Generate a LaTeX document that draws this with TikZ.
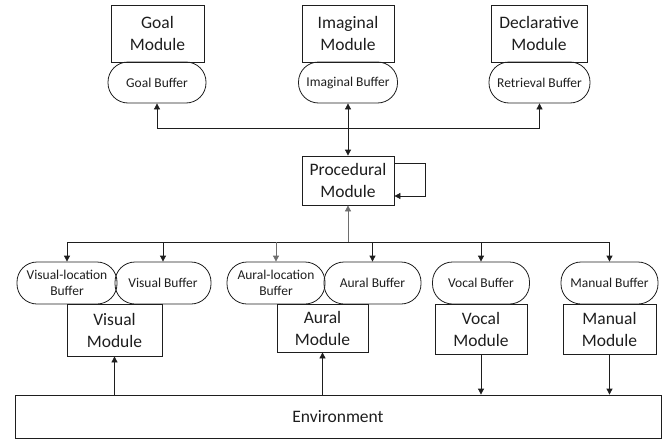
\documentclass[tikz,border=0pt]{standalone}
\usepackage{fontspec}
\setmainfont{Carlito}
\usetikzlibrary{arrows.meta}
\definecolor{linegray}{RGB}{110,110,110}
\definecolor{ink}{RGB}{30,30,30}
\begin{document}
\begin{tikzpicture}[x=1pt,y=-1pt,
  line width=0.8pt, draw=ink, text=ink,
  modbox/.style={draw, rectangle, inner sep=0pt, align=center, font=\fontsize{17.5}{22}\selectfont},
  bufbox/.style={draw, rectangle, rounded corners=20pt, inner sep=0pt, align=center, minimum height=41pt, font=\fontsize{13.5}{16.5}\selectfont},
  arr/.style={-{Triangle[length=6pt,width=6pt]}},
  darr/.style={{Triangle[length=6pt,width=6pt]}-{Triangle[length=6pt,width=6pt]}}]
\useasboundingbox (0,0) rectangle (664,439);

% top modules
\node[modbox, minimum width=93pt, minimum height=57pt] (goalmod) at (157.5,33.5) {Goal\\Module};
\node[modbox, minimum width=92pt, minimum height=57pt] (imgmod) at (348,33.5) {Imaginal\\Module};
\node[modbox, minimum width=96pt, minimum height=57pt] (decmod) at (539,33.5) {Declarative\\Module};

\node[bufbox, minimum width=98pt] (goalbuf) at (157,82.5) {Goal Buffer};
\node[bufbox, minimum width=99pt] (imgbuf) at (348,82.5) {Imaginal Buffer};
\node[bufbox, minimum width=101pt] (decbuf) at (539.5,82.5) {Retrieval Buffer};

% procedural
\node[modbox, minimum width=92pt, minimum height=49pt] (proc) at (348,180.5) {Procedural\\Module};

% bottom modules
\node[modbox, minimum width=95pt, minimum height=52pt] (vismod) at (114.5,330) {Visual\\Module};
\node[modbox, minimum width=91pt, minimum height=48pt] (aurmod) at (322.5,328) {Aural\\Module};
\node[modbox, minimum width=92pt, minimum height=50pt] (vocmod) at (481,329) {Vocal\\Module};
\node[modbox, minimum width=93pt, minimum height=50pt] (manmod) at (609.5,329) {Manual\\Module};

% bottom buffers
\node[bufbox, minimum width=100pt, minimum height=42pt] (vlocbuf) at (67,283) {Visual-location\\Buffer};
\node[bufbox, minimum width=96pt, minimum height=42pt] (visbuf) at (163,283) {Visual Buffer};
\node[bufbox, minimum width=98pt, minimum height=42pt] (alocbuf) at (276,283) {Aural-location\\Buffer};
\node[bufbox, minimum width=97pt, minimum height=42pt] (aurbuf) at (372.5,283) {Aural Buffer};
\node[bufbox, minimum width=97pt, minimum height=42pt] (vocbuf) at (481,283) {Vocal Buffer};
\node[bufbox, minimum width=97pt, minimum height=42pt] (manbuf) at (609.5,283) {Manual Buffer};

% environment
\node[modbox, minimum width=646pt, minimum height=43pt] (env) at (338,416.5) {Environment};

% top connectors
\draw[darr] (goalbuf.south) -- ++(0,24.5) -| (decbuf.south);
\draw[darr] (imgbuf.south) -- (proc.north);

% self loop
\draw[arr] ([yshift=17.5pt]proc.east) -- ++(31,0) |- ([yshift=-15.5pt]proc.east);

% bus
\coordinate (bus) at (0,242);
\draw (vlocbuf.north |- bus) -- (manbuf.north |- bus);
\draw[arr, draw=linegray] (proc.south |- bus) -- (proc.south);
\draw[arr] (vlocbuf.north |- bus) -- (vlocbuf.north);
\draw[arr] (visbuf.north |- bus) -- (visbuf.north);
\draw[arr, draw=linegray] (alocbuf.north |- bus) -- (alocbuf.north);
\draw[arr] (aurbuf.north |- bus) -- (aurbuf.north);
\draw[arr] (vocbuf.north |- bus) -- (vocbuf.north);
\draw[arr] (manbuf.north |- bus) -- (manbuf.north);

% environment connectors
\draw[arr] (vismod.south |- env.north) -- (vismod.south);
\draw[arr] (aurmod.south |- env.north) -- (aurmod.south);
\draw[arr] (vocmod.south) -- (vocmod.south |- env.north);
\draw[arr] (manmod.south) -- (manmod.south |- env.north);
\end{tikzpicture}
\end{document}
